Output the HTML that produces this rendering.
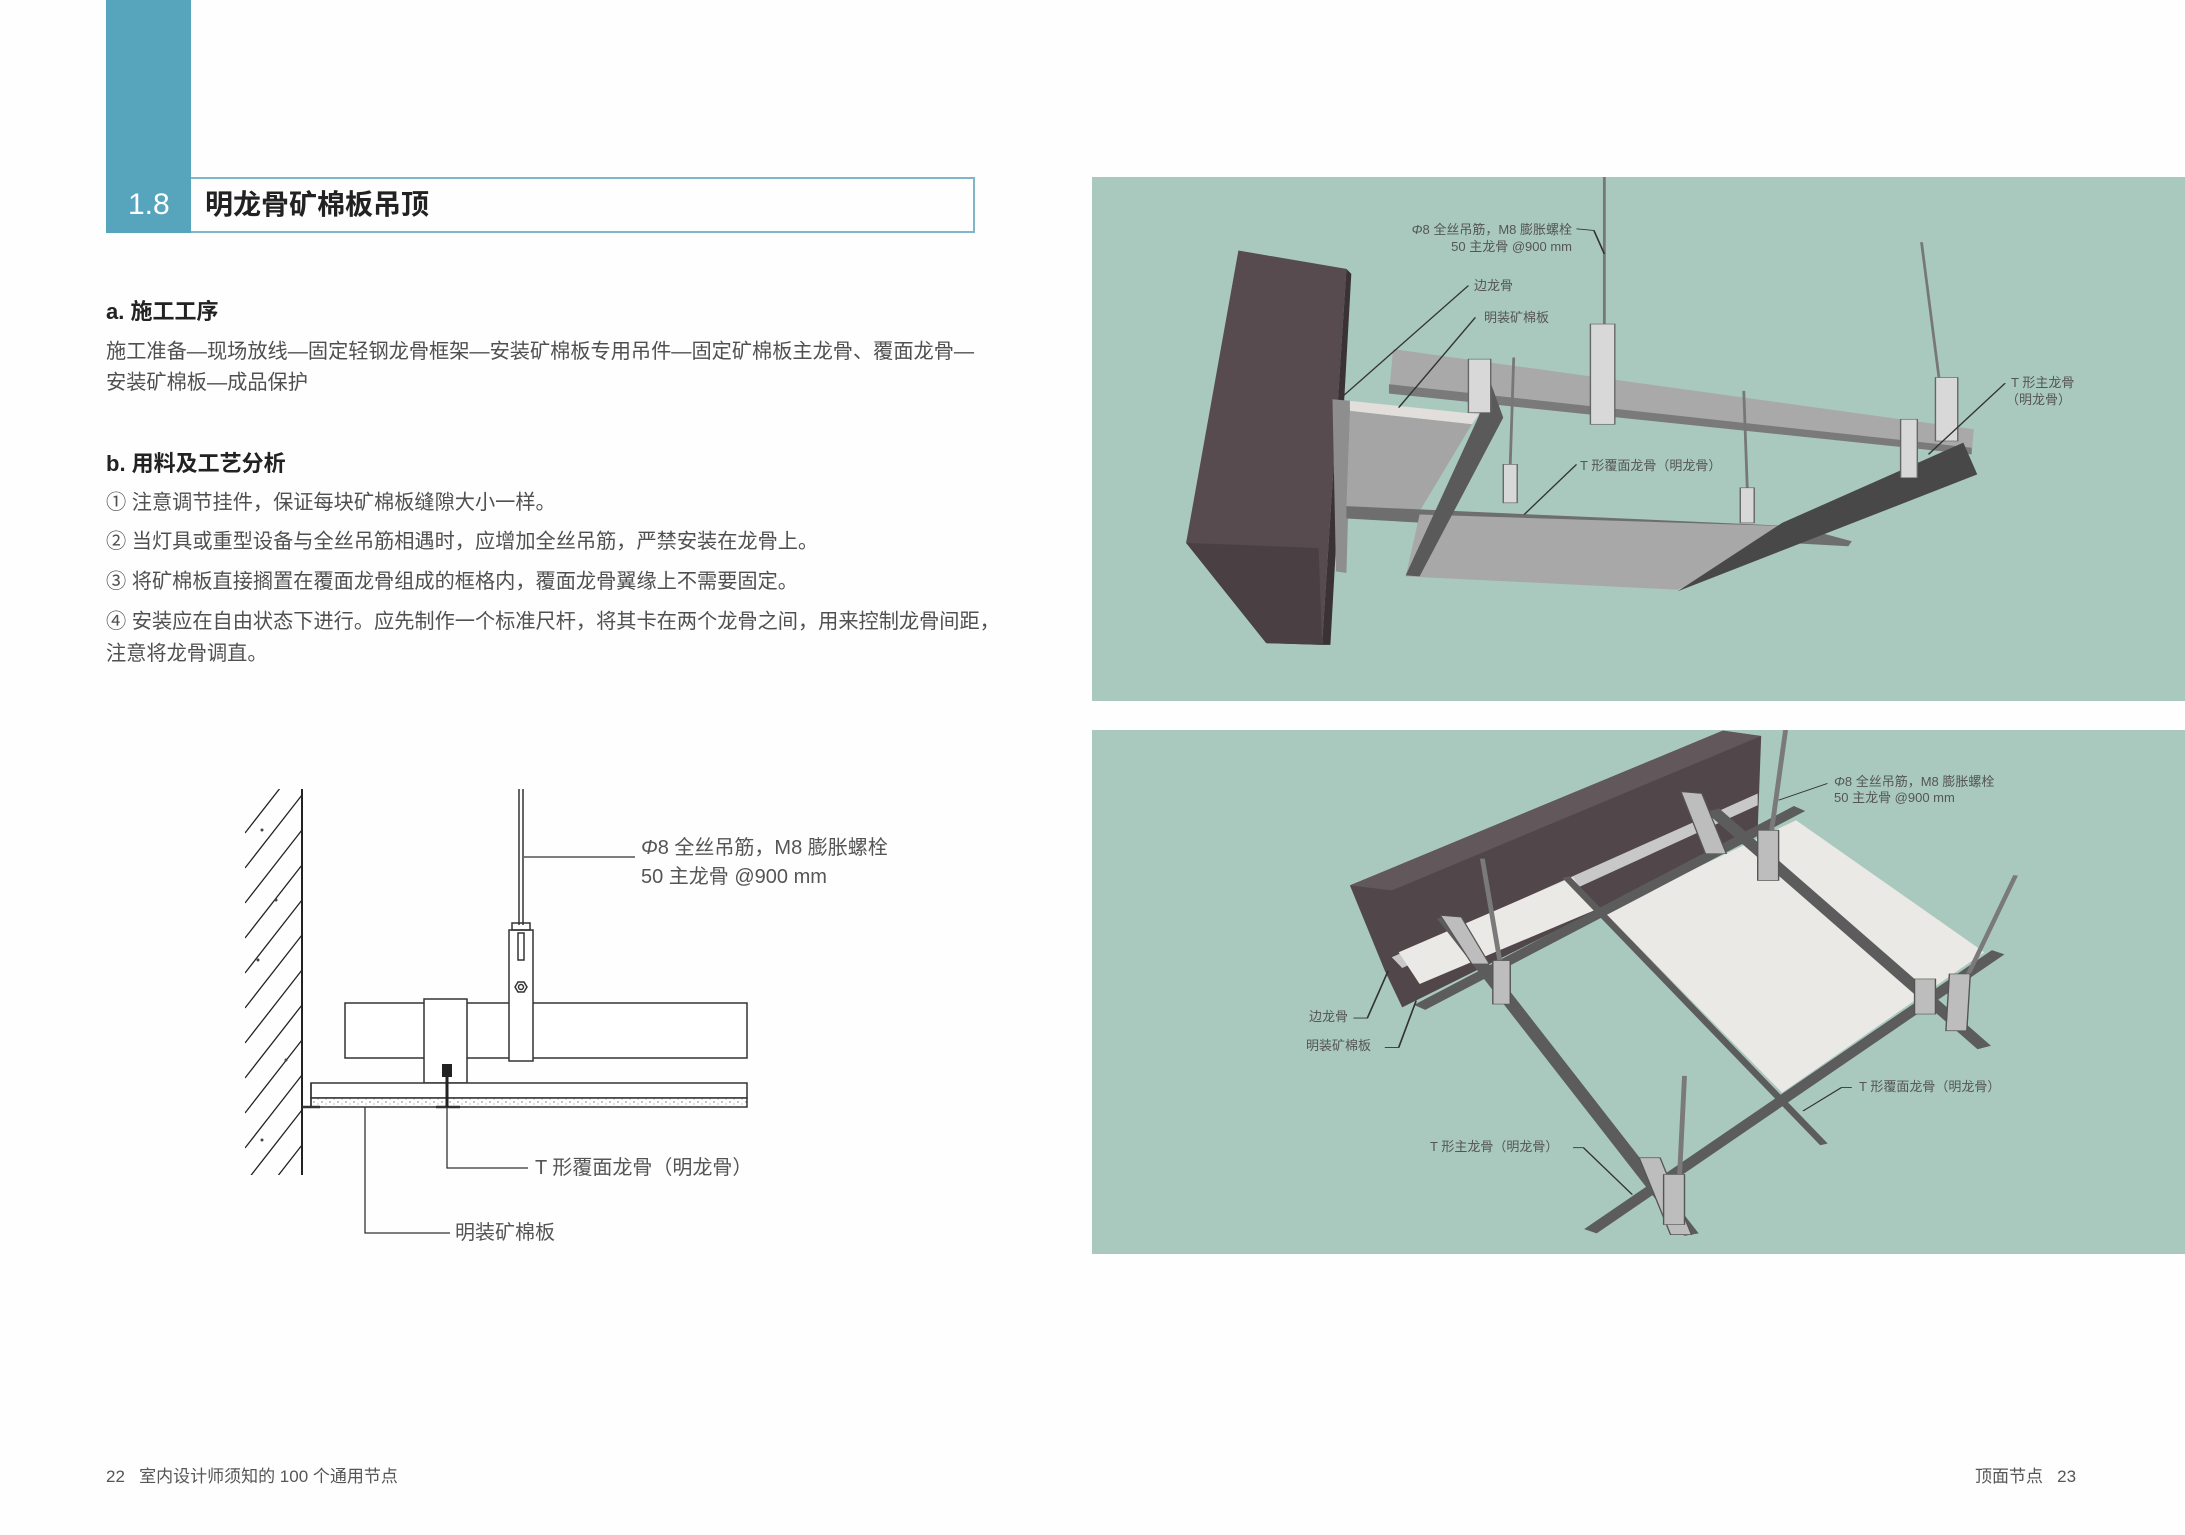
<!DOCTYPE html>
<html><head><meta charset="utf-8">
<style>
*{margin:0;padding:0;box-sizing:border-box}
body{width:2185px;height:1535px;background:#fefefe;position:relative;overflow:hidden;font-family:"Liberation Sans","Noto Sans CJK SC",sans-serif;color:#444}
.a{position:absolute;white-space:nowrap}
.t{font-size:20.2px;color:#505050;line-height:1}
.lab{font-size:13px;color:#555;line-height:1}
.lab2{font-size:20px;color:#555;line-height:1}
</style></head><body>
<div class="a" style="left:106px;top:0;width:85px;height:233px;background:#57a4bd"></div>
<div class="a" style="left:191px;top:177px;width:784px;height:56px;border:2px solid #7fb7c9;border-left:none"></div>
<div class="a" style="left:128px;top:190px;font-size:30px;color:#fff;line-height:1">1.8</div>
<div class="a" style="left:205px;top:191px;font-size:28px;font-weight:bold;color:#222;line-height:1">明龙骨矿棉板吊顶</div>

<div class="a" style="left:106px;top:301px;font-size:22px;font-weight:bold;color:#222;line-height:1">a. 施工工序</div>
<div class="a t" style="left:106px;top:342px">施工准备—现场放线—固定轻钢龙骨框架—安装矿棉板专用吊件—固定矿棉板主龙骨、覆面龙骨—</div>
<div class="a t" style="left:106px;top:373px">安装矿棉板—成品保护</div>
<div class="a" style="left:106px;top:453px;font-size:22px;font-weight:bold;color:#222;line-height:1">b. 用料及工艺分析</div>
<div class="a t" style="left:106px;top:493px">① 注意调节挂件，保证每块矿棉板缝隙大小一样。</div>
<div class="a t" style="left:106px;top:532px">② 当灯具或重型设备与全丝吊筋相遇时，应增加全丝吊筋，严禁安装在龙骨上。</div>
<div class="a t" style="left:106px;top:572px">③ 将矿棉板直接搁置在覆面龙骨组成的框格内，覆面龙骨翼缘上不需要固定。</div>
<div class="a t" style="left:106px;top:612px">④ 安装应在自由状态下进行。应先制作一个标准尺杆，将其卡在两个龙骨之间，用来控制龙骨间距，</div>
<div class="a t" style="left:106px;top:644px">注意将龙骨调直。</div>

<!-- section drawing -->
<svg class="a" style="left:0;top:0" width="1000" height="1535" viewBox="0 0 1000 1535">
<defs><clipPath id="w"><rect x="245" y="789" width="57" height="386"/></clipPath>
<pattern id="sp" width="8" height="5" patternUnits="userSpaceOnUse"><rect width="8" height="5" fill="#fff"/><circle cx="2" cy="2" r="0.7" fill="#777"/><circle cx="6" cy="4" r="0.6" fill="#999"/></pattern></defs>
<g clip-path="url(#w)" stroke="#222" stroke-width="1.3">
<path d="M302 760 L245 833 M302 795 L245 868 M302 830 L245 903 M302 865 L245 938 M302 900 L245 973 M302 935 L245 1008 M302 970 L245 1043 M302 1005 L245 1078 M302 1040 L245 1113 M302 1075 L245 1148 M302 1110 L245 1183 M302 1145 L245 1218"/>
</g>
<g fill="#444"><circle cx="262" cy="830" r="1.5"/><circle cx="276" cy="900" r="1.5"/><circle cx="258" cy="960" r="1.5"/><circle cx="286" cy="1060" r="1.5"/><circle cx="262" cy="1140" r="1.5"/></g>
<line x1="302" y1="789" x2="302" y2="1175" stroke="#222" stroke-width="2"/>
<g fill="none" stroke="#333" stroke-width="1.5">
<line x1="519" y1="789" x2="519" y2="925"/><line x1="523" y1="789" x2="523" y2="925"/>
<rect x="345" y="1003" width="402" height="55" fill="#fff"/>
<rect x="509" y="930" width="24" height="131" fill="#fff"/>
<rect x="424" y="999" width="43" height="84" fill="#fff"/>
<rect x="512" y="923" width="18" height="7"/>
<rect x="518" y="933" width="6" height="27"/>
<polygon points="515,987 518,982 524,982 527,987 524,992 518,992"/>
<circle cx="521" cy="987" r="2.5"/>
<rect x="311" y="1083" width="436" height="15" fill="#fff"/>
<rect x="311" y="1098" width="436" height="9" fill="url(#sp)"/>
<line x1="311" y1="1083" x2="311" y2="1107"/>
<line x1="302" y1="1107" x2="320" y2="1107" stroke-width="2.5"/>
<line x1="436" y1="1107" x2="460" y2="1107" stroke-width="2.5"/>
</g>
<rect x="442" y="1064" width="10" height="13" fill="#222"/>
<line x1="447" y1="1076" x2="447" y2="1107" stroke="#222" stroke-width="3"/>
<g fill="none" stroke="#333" stroke-width="1.3">
<polyline points="524,857 635,857"/><polyline points="447,1107 447,1168 528,1168"/><polyline points="365,1107 365,1233 450,1233"/>
</g>
</svg>
<div class="a lab2" style="left:641px;top:838px"><i>Φ</i>8 全丝吊筋，M8 膨胀螺栓</div>
<div class="a lab2" style="left:641px;top:867px">50 主龙骨 @900 mm</div>
<div class="a lab2" style="left:535px;top:1158px">T 形覆面龙骨（明龙骨）</div>
<div class="a lab2" style="left:455px;top:1223px">明装矿棉板</div>

<!-- top 3D panel -->
<svg class="a" style="left:1092px;top:177px" width="1093" height="524" viewBox="0 0 1568 1568" preserveAspectRatio="none">
<rect width="1568" height="1568" fill="#a9c9bf"/>
<polygon points="210,220 365,275 330,1400 250,1395 135,1095" fill="#574b50"/>
<polygon points="135,1095 250,1395 330,1400 325,1110" fill="#4a3f43"/>
<polygon points="365,275 372,290 342,1400 330,1400" fill="#3a3235"/>
<polygon points="345,665 372,670 365,1185 350,1180" fill="#8e8e8e"/>
<polygon points="432,515 1265,755 1262,830 426,648" fill="#a9a9a9"/>
<polygon points="426,620 1262,810 1262,830 426,648" fill="#7a7a7a"/>
<polygon points="370,670 555,710 545,740 370,700" fill="#e2dedb"/>
<polygon points="370,700 545,740 470,1000 365,985" fill="#a5a5a5"/>
<polygon points="365,985 1010,1045 1090,1090 1085,1105 365,1022" fill="#6e6e6e"/>
<polygon points="470,1010 1000,1045 1270,880 840,1235 450,1195" fill="#a8a8a8"/>
<polygon points="990,1035 1250,795 1270,890 840,1240" fill="#484848"/>
<polygon points="570,605 590,720 470,1195 450,1192 555,715" fill="#5a5a5a"/>
<g stroke="#777" stroke-width="4">
<line x1="735" y1="0" x2="735" y2="440"/><line x1="1190" y1="195" x2="1215" y2="600"/>
<line x1="605" y1="540" x2="600" y2="860"/><line x1="935" y1="640" x2="940" y2="930"/>
</g>
<g fill="#d8d8d8" stroke="#666" stroke-width="2">
<rect x="715" y="440" width="35" height="300"/><rect x="1210" y="600" width="32" height="190"/>
<rect x="540" y="545" width="32" height="160"/><rect x="1160" y="725" width="24" height="175"/>
<rect x="590" y="860" width="20" height="115"/><rect x="930" y="930" width="20" height="105"/>
</g>
<g stroke="#333" stroke-width="2.5" fill="none">
<polyline points="695,155 720,160 735,230"/><line x1="540" y1="325" x2="355" y2="665"/>
<line x1="550" y1="420" x2="440" y2="690"/><line x1="695" y1="860" x2="620" y2="1010"/>
<line x1="1310" y1="617" x2="1200" y2="830"/>
</g>
</svg>
<div class="a lab" style="left:1400px;top:223px;width:172px;text-align:right"><i>Φ</i>8 全丝吊筋，M8 膨胀螺栓</div>
<div class="a lab" style="left:1400px;top:240px;width:172px;text-align:right">50 主龙骨 @900 mm</div>
<div class="a lab" style="left:1474px;top:279px">边龙骨</div>
<div class="a lab" style="left:1484px;top:311px">明装矿棉板</div>
<div class="a lab" style="left:1580px;top:459px">T 形覆面龙骨（明龙骨）</div>
<div class="a lab" style="left:2011px;top:376px">T 形主龙骨</div>
<div class="a lab" style="left:2006px;top:393px">（明龙骨）</div>

<!-- bottom 3D panel -->
<svg class="a" style="left:1092px;top:730px" width="1093" height="524" viewBox="0 0 1568 1568" preserveAspectRatio="none">
<rect width="1568" height="1568" fill="#a9c9bf"/>
<polygon points="370,465 905,2 960,18 955,300 445,830 420,720" fill="#51464a"/>
<polygon points="370,465 905,2 960,18 430,480" fill="#62575a"/>
<polygon points="430,680 955,190 955,225 445,712" fill="#c8c8c8"/>
<polygon points="735,545 1010,270 1280,665 990,1085" fill="#ebe9e6"/>
<polygon points="440,665 690,440 720,540 470,760" fill="#ebe9e6"/>
<g stroke="#5c5c5c" stroke-linecap="butt">
<line x1="470" y1="830" x2="1015" y2="235" stroke-width="22"/>
<line x1="1300" y1="665" x2="715" y2="1500" stroke-width="22"/>
<line x1="505" y1="560" x2="860" y2="1510" stroke-width="22"/>
<line x1="680" y1="440" x2="1050" y2="1240" stroke-width="12"/>
<line x1="890" y1="240" x2="1280" y2="950" stroke-width="22"/>
</g>
<g stroke="#7a7a7a" stroke-width="7">
<line x1="560" y1="385" x2="585" y2="690"/><line x1="995" y1="0" x2="975" y2="300"/>
<line x1="1325" y1="435" x2="1255" y2="740"/><line x1="850" y1="1035" x2="843" y2="1330"/>
</g>
<g fill="#bdbdbd" stroke="#555" stroke-width="2">
<polygon points="845,185 875,190 910,370 880,370"/><polygon points="955,300 985,300 985,450 955,450"/>
<polygon points="1180,745 1210,745 1210,850 1180,850"/><polygon points="1230,730 1260,730 1255,900 1225,900"/>
<polygon points="785,1280 815,1280 860,1510 830,1510"/><polygon points="820,1330 850,1330 850,1480 820,1480"/>
<polygon points="500,555 530,560 570,700 545,700"/><polygon points="575,690 600,690 600,820 575,820"/>
</g>
<g stroke="#333" stroke-width="2.5" fill="none">
<line x1="1055" y1="160" x2="985" y2="210"/><polyline points="375,862 395,862 425,720"/>
<polyline points="420,950 440,950 465,810"/><polyline points="1090,1070 1075,1070 1020,1140"/>
<polyline points="690,1250 705,1250 775,1390"/>
</g>
</svg>
<div class="a lab" style="left:1834px;top:775px"><i>Φ</i>8 全丝吊筋，M8 膨胀螺栓</div>
<div class="a lab" style="left:1834px;top:791px">50 主龙骨 @900 mm</div>
<div class="a lab" style="left:1309px;top:1010px">边龙骨</div>
<div class="a lab" style="left:1306px;top:1039px">明装矿棉板</div>
<div class="a lab" style="left:1859px;top:1080px">T 形覆面龙骨（明龙骨）</div>
<div class="a lab" style="left:1430px;top:1140px">T 形主龙骨（明龙骨）</div>

<div class="a" style="left:106px;top:1468px;font-size:17px;color:#555;line-height:1">22&nbsp;&nbsp;&nbsp;室内设计师须知的 100 个通用节点</div>
<div class="a" style="left:1975px;top:1468px;font-size:17px;color:#555;line-height:1">顶面节点&nbsp;&nbsp;&nbsp;23</div>
</body></html>
